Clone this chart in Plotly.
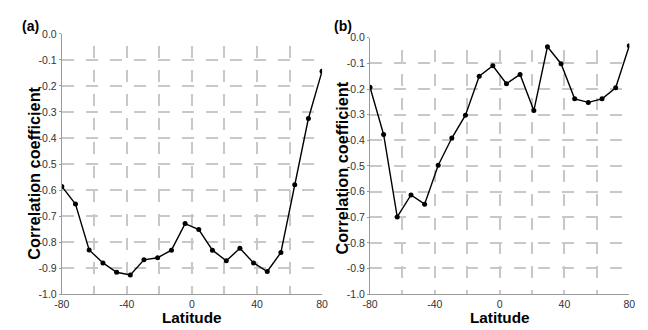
import plotly.graph_objects as go

latitude = [-80.0, -71.6, -63.2, -54.7, -46.3, -37.9, -29.5, -21.1, -12.6, -4.2,
            4.2, 12.6, 21.1, 29.5, 37.9, 46.3, 54.7, 63.2, 71.6, 80.0]
corr_a = [-0.586, -0.654, -0.830, -0.880, -0.916, -0.926, -0.868, -0.860, -0.831, -0.729,
          -0.752, -0.831, -0.872, -0.824, -0.880, -0.913, -0.840, -0.580, -0.325, -0.143]
corr_b = [-0.193, -0.377, -0.699, -0.613, -0.649, -0.497, -0.391, -0.302, -0.150, -0.109,
          -0.179, -0.143, -0.284, -0.035, -0.101, -0.238, -0.252, -0.238, -0.195, -0.031]
x_ticks = [-80, -40, 0, 40, 80]
x_ticklabels = ["-80", "-40", "0", "40", "80"]
x_grid = [-60, -20, 20, 60]
y_ticks = [0.0, -0.1, -0.2, -0.3, -0.4, -0.5, -0.6, -0.7, -0.8, -0.9, -1.0]
y_ticklabels = ["0.0", "-0.1", "-0.2", "-0.3", "-0.4", "-0.5", "-0.6", "-0.7", "-0.8", "-0.9", "-1.0"]
panel_labels = ["(a)", "(b)"]
x_title = "Latitude"
y_title = "Correlation coefficient"

W, H = 648, 330
fig = go.Figure()
fig.add_trace(go.Scatter(x=latitude, y=corr_a, mode="lines+markers",
                         line=dict(color="black", width=1.4),
                         marker=dict(color="black", size=5),
                         xaxis="x", yaxis="y", showlegend=False))
fig.add_trace(go.Scatter(x=latitude, y=corr_b, mode="lines+markers",
                         line=dict(color="black", width=1.4),
                         marker=dict(color="black", size=5),
                         xaxis="x2", yaxis="y2", showlegend=False))

font = "Liberation Sans, Arial, sans-serif"
grid_col = "#c8c8c8"
axis_col = "#9a9a9a"


def xax(domain, anchor):
    return dict(domain=domain, anchor=anchor, range=[-80, 80],
                tickmode="array", tickvals=x_ticks, ticktext=x_ticklabels,
                showgrid=True, gridcolor=grid_col, gridwidth=1.5,
                griddash="0px,12px,12px,0px",
                minor=dict(tickmode="array", tickvals=x_grid, showgrid=True,
                           gridcolor=grid_col, gridwidth=1.5,
                           griddash="0px,12px,12px,0px", ticks=""),
                showline=True, linecolor=axis_col, linewidth=1,
                ticks="", zeroline=False,
                tickfont=dict(family=font, size=10.5, color="#333333"))


def yax(domain, anchor):
    return dict(domain=domain, anchor=anchor, range=[-1.0, 0.0],
                tickmode="array", tickvals=y_ticks, ticktext=y_ticklabels,
                showgrid=True, gridcolor=grid_col, gridwidth=1.5,
                griddash="12px,12px",
                showline=True, linecolor=axis_col, linewidth=1,
                ticks="outside", ticklen=2, tickcolor=axis_col,
                zeroline=False,
                tickfont=dict(family=font, size=10.5, color="#333333"))


fig.update_layout(
    width=W, height=H, autosize=False,
    margin=dict(l=0, r=0, t=0, b=0),
    paper_bgcolor="white", plot_bgcolor="white",
    xaxis=xax([55 / W, 321 / W], "y"), yaxis=yax([31 / H, 301 / H], "x"),
    xaxis2=xax([370 / W, 635 / W], "y2"), yaxis2=yax([31 / H, 297 / H], "x2"),
)

ann = []
ann.append(dict(text="<b>" + panel_labels[0] + "</b>", x=12 / W, y=1 - 21 / H,
                xref="paper", yref="paper", xanchor="left", yanchor="middle",
                showarrow=False, font=dict(family=font, size=14, color="black")))
ann.append(dict(text="<b>" + panel_labels[1] + "</b>", x=331 / W, y=1 - 21 / H,
                xref="paper", yref="paper", xanchor="left", yanchor="middle",
                showarrow=False, font=dict(family=font, size=14, color="black")))
for cx in (188 / W, 502.5 / W):
    ann.append(dict(text="<b>" + x_title + "</b>", x=cx, y=1 - 333 / H,
                    xref="paper", yref="paper", xanchor="center", yanchor="bottom",
                    showarrow=False, borderpad=0,
                    font=dict(family=font, size=15.3, color="black")))
for cx, cy in ((26.7 / W, 1 - 174 / H), (341.7 / W, 1 - 168.4 / H)):
    ann.append(dict(text="<b>" + y_title + "</b>", x=cx, y=cy, textangle=-90,
                    xref="paper", yref="paper", xanchor="center", yanchor="middle",
                    showarrow=False, font=dict(family=font, size=16.3, color="black")))
fig.update_layout(annotations=ann)

fig.write_html("out.html")
